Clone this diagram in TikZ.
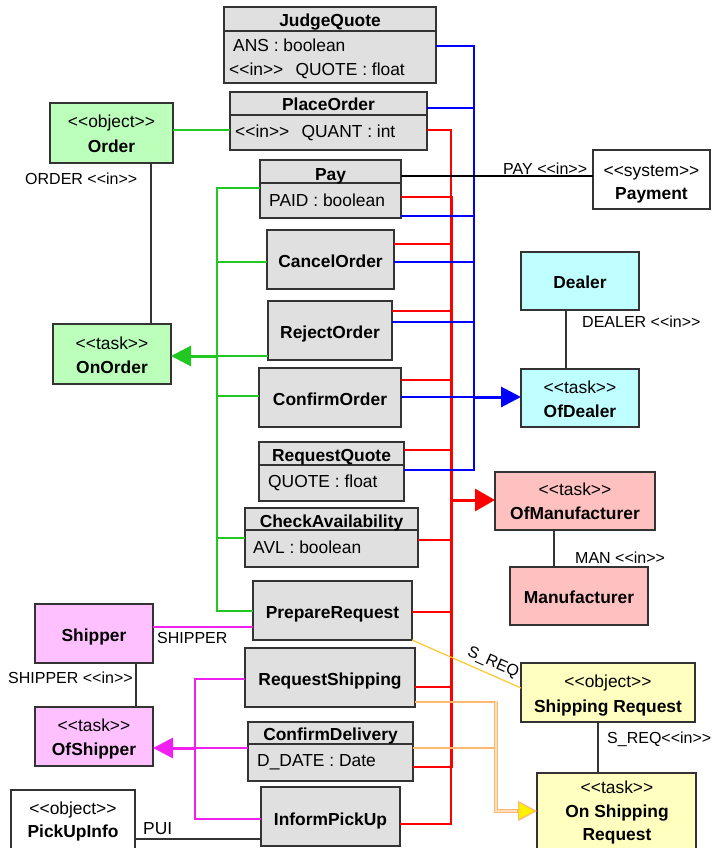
\documentclass[tikz,border=0pt]{standalone}
\usepackage{fontspec}
\newfontfamily\lsans{Liberation Sans}
\usetikzlibrary{arrows.meta}
\definecolor{edgec}{HTML}{333333}
\definecolor{boxg}{HTML}{E0E0E0}
\definecolor{grn}{HTML}{BBFFBB}
\definecolor{cyn}{HTML}{C0FFFF}
\definecolor{pnk}{HTML}{FFC0C0}
\definecolor{mag}{HTML}{FFC0FF}
\definecolor{ylw}{HTML}{FFFFC0}
\definecolor{gl}{HTML}{22C822}
\definecolor{bl}{HTML}{0000FF}
\definecolor{rl}{HTML}{FF0000}
\definecolor{ml}{HTML}{F020F0}
\definecolor{yl}{HTML}{FFC828}
\definecolor{ol}{HTML}{FFB870}
\tikzset{
  bx/.style={draw=edgec, line width=1.3pt, inner sep=0pt, outer sep=0pt, anchor=north west},
  tx/.style={font=\lsans\fontsize{17.4}{20}\selectfont, inner sep=0pt, anchor=base, text=black},
  tb/.style={font=\lsans\bfseries\fontsize{17.4}{20}\selectfont, inner sep=0pt, anchor=base, text=black},
  ta/.style={font=\lsans\fontsize{17.4}{20}\selectfont, inner sep=0pt, anchor=base west, text=black},
  lb/.style={font=\lsans\fontsize{16}{19}\selectfont, inner sep=0pt, anchor=base west, text=black},
  conn/.style={line width=1.2pt},
  thick3/.style={line width=3pt},
  bigtip/.style={-{Triangle[length=20pt,width=20pt]}},
  divl/.style={draw=edgec, line width=1.3pt},
}
\begin{document}
\begin{tikzpicture}[x=1pt,y=-1pt]
\useasboundingbox (0,0) rectangle (712,848);

% ---------- boxes ----------
\node[bx, fill=boxg, minimum width=212pt, minimum height=76pt] (judge) at (224,7) {};
\node[bx, fill=boxg, minimum width=197pt, minimum height=58pt] (place) at (230,92) {};
\node[bx, fill=grn, minimum width=123pt, minimum height=60pt] (order) at (50,103) {};
\node[bx, fill=boxg, minimum width=141pt, minimum height=58pt] (pay) at (260,160) {};
\node[bx, fill=white, minimum width=117pt, minimum height=59pt] (payment) at (593,150) {};
\node[bx, fill=boxg, minimum width=127pt, minimum height=59pt] (cancel) at (267,230) {};
\node[bx, fill=boxg, minimum width=124pt, minimum height=59pt] (reject) at (268,301) {};
\node[bx, fill=boxg, minimum width=142pt, minimum height=59pt] (confirm) at (259,368) {};
\node[bx, fill=boxg, minimum width=145pt, minimum height=59pt] (rquote) at (259,442) {};
\node[bx, fill=boxg, minimum width=173pt, minimum height=59pt] (check) at (245,508) {};
\node[bx, fill=boxg, minimum width=159pt, minimum height=59pt] (prepare) at (253,581) {};
\node[bx, fill=boxg, minimum width=170pt, minimum height=59pt] (reqship) at (245,648) {};
\node[bx, fill=boxg, minimum width=165pt, minimum height=59pt] (confdel) at (248,722) {};
\node[bx, fill=boxg, minimum width=139pt, minimum height=59pt] (inform) at (261,787) {};
\node[bx, fill=grn, minimum width=118pt, minimum height=60pt] (onorder) at (53,324) {};
\node[bx, fill=cyn, minimum width=118pt, minimum height=58pt] (dealer) at (521,252) {};
\node[bx, fill=cyn, minimum width=118pt, minimum height=58pt] (ofdealer) at (521,369) {};
\node[bx, fill=pnk, minimum width=160pt, minimum height=58pt] (ofman) at (495,472) {};
\node[bx, fill=pnk, minimum width=138pt, minimum height=58pt] (man) at (510,567) {};
\node[bx, fill=ylw, minimum width=174pt, minimum height=59pt] (shipreq) at (521,663) {};
\node[bx, fill=ylw, minimum width=159pt, minimum height=85pt] (onship) at (537,773) {};
\node[bx, fill=mag, minimum width=118pt, minimum height=59pt] (shipper) at (35,604) {};
\node[bx, fill=mag, minimum width=118pt, minimum height=59pt] (ofshipper) at (35,707) {};
\node[bx, fill=white, minimum width=124pt, minimum height=70pt] (pickup) at (11,790) {};

% compartment dividers
\draw[divl] (judge.west |- 0,31) -- (judge.east |- 0,31);
\draw[divl] (place.west |- 0,115) -- (place.east |- 0,115);
\draw[divl] (pay.west |- 0,183) -- (pay.east |- 0,183);
\draw[divl] (rquote.west |- 0,465) -- (rquote.east |- 0,465);
\draw[divl] (check.west |- 0,530) -- (check.east |- 0,530);
\draw[divl] (confdel.west |- 0,744) -- (confdel.east |- 0,744);

% ---------- texts ----------
\node[tb] (t-judge) at (330,27) {JudgeQuote};
\node[ta] (a-judge1) at (233,52) {ANS : boolean};
\node[ta] (a-judge2) at (229,76) {<<in>>\hspace{0.7em}QUOTE : float};
\node[tb] (t-place) at (328.5,111) {PlaceOrder};
\node[ta] (a-place) at (235,137) {<<in>>\hspace{0.7em}QUANT : int};
\node[tx] (s-order) at (111.5,128) {<<object>>};
\node[tb] (t-order) at (111.5,152) {Order};
\node[tb] (t-pay) at (330.5,180) {Pay};
\node[ta] (a-pay) at (269,206) {PAID : boolean};
\node[tx] (s-payment) at (651.5,176) {<<system>>};
\node[tb] (t-payment) at (651.5,199) {Payment};
\node[tb] (t-cancel) at (330.5,267) {CancelOrder};
\node[tb] (t-reject) at (330,338) {RejectOrder};
\node[tb] (t-confirm) at (330,405) {ConfirmOrder};
\node[tb] (t-rquote) at (331.5,461) {RequestQuote};
\node[ta] (a-rquote) at (268,487) {QUOTE : float};
\node[tb] (t-check) at (331.5,527) {CheckAvailability};
\node[ta] (a-check) at (253,553) {AVL : boolean};
\node[tb] (t-prepare) at (332.5,618) {PrepareRequest};
\node[tb] (t-reqship) at (330,685) {RequestShipping};
\node[tb] (t-confdel) at (330.5,740) {ConfirmDelivery};
\node[ta] (a-confdel) at (257,766) {D\_DATE : Date};
\node[tb] (t-inform) at (330.5,825) {InformPickUp};
\node[tx] (s-onorder) at (112,349) {<<task>>};
\node[tb] (t-onorder) at (112,373) {OnOrder};
\node[tb] (t-dealer) at (580,288) {Dealer};
\node[tx] (s-ofdealer) at (580,393) {<<task>>};
\node[tb] (t-ofdealer) at (580,417) {OfDealer};
\node[tx] (s-ofman) at (575,495) {<<task>>};
\node[tb] (t-ofman) at (575,519) {OfManufacturer};
\node[tb] (t-man) at (579,603) {Manufacturer};
\node[tx] (s-shipreq) at (608,687) {<<object>>};
\node[tb] (t-shipreq) at (608,712) {Shipping Request};
\node[tx] (s-onship) at (617,793) {<<task>>};
\node[tb] (t-onship1) at (617,817) {On Shipping};
\node[tb] (t-onship2) at (617,840) {Request};
\node[tb] (t-shipper) at (94,641) {Shipper};
\node[tx] (s-ofshipper) at (94,731) {<<task>>};
\node[tb] (t-ofshipper) at (94,755) {OfShipper};
\node[tx] (s-pickup) at (73,814) {<<object>>};
\node[tb] (t-pickup) at (73,837) {PickUpInfo};

% ---------- black connectors ----------
\draw[conn, edgec] (order.south -| 151,0) -- (onorder.north -| 151,0);
\node[lb] (l-order) at (25,184) {ORDER <<in>>};
\draw[conn, edgec] (dealer.south -| 566,0) -- (ofdealer.north -| 566,0);
\node[lb] (l-dealer) at (582,327) {DEALER <<in>>};
\draw[conn, edgec] (ofman.south -| 554,0) -- (man.north -| 554,0);
\node[lb] (l-man) at (575,563) {MAN <<in>>};
\draw[conn, edgec] (shipreq.south -| 598,0) -- (onship.north -| 598,0);
\node[lb] (l-sreq) at (607,743) {S\_REQ<<in>>};
\draw[conn, edgec] (shipper.south -| 136,0) -- (ofshipper.north -| 136,0);
\node[lb] (l-shipper) at (8,683) {SHIPPER <<in>>};
\draw[conn, edgec] (pickup.east |- 0,839) -- (inform.west |- 0,839);
\node[ta] (l-pui) at (143,834) {PUI};

% ---------- green ----------
\coordinate (gtop) at (217,188);
\coordinate (gbot) at (217,611);
\draw[conn, gl] (order.east |- 0,130) -- (place.west |- 0,130);
\draw[conn, gl] (pay.west |- gtop) -- (gtop) -- (gbot) -- (prepare.west |- gbot);
\draw[conn, gl] (cancel.west |- 0,262) -- (gtop |- 0,262);
\draw[conn, gl] (confirm.west |- 0,396) -- (gtop |- 0,396);
\draw[conn, gl] (check.west |- 0,538) -- (gtop |- 0,538);
\draw[conn, gl] (reject.west |- 0,356) -- (gtop |- 0,356);
\draw[thick3, gl, bigtip] (gtop |- 0,356) -- (onorder.east |- 0,356);

% ---------- red ----------
\coordinate (rtop) at (451,130);
\coordinate (rbot) at (451,824);
\draw[conn, rl] (place.east |- rtop) -- (rtop) -- (451,199);
\draw[thick3, rl] (451,196) -- (451,768);
\draw[conn, rl] (451,766) -- (rbot) -- (inform.east |- rbot);
\draw[conn, rl] (pay.east |- 0,197) -- (rtop |- 0,197);
\draw[conn, rl] (cancel.east |- 0,244) -- (rtop |- 0,244);
\draw[conn, rl] (reject.east |- 0,311) -- (rtop |- 0,311);
\draw[conn, rl] (confirm.east |- 0,380) -- (rtop |- 0,380);
\draw[conn, rl] (rquote.east |- 0,450) -- (rtop |- 0,450);
\draw[conn, rl] (check.east |- 0,540) -- (rtop |- 0,540);
\draw[conn, rl] (prepare.east |- 0,612) -- (rtop |- 0,612);
\draw[conn, rl] (reqship.east |- 0,687) -- (rtop |- 0,687);
\draw[conn, rl] (confdel.east |- 0,767) -- (rtop |- 0,767);
\draw[thick3, rl, -{Triangle[length=20pt,width=22pt]}] (rtop |- 0,500) -- (ofman.west |- 0,500);

% ---------- blue ----------
\coordinate (btop) at (474,46);
\coordinate (bbot) at (474,470);
\draw[conn, bl] (judge.east |- btop) -- (btop) -- (bbot) -- (rquote.east |- bbot);
\draw[conn, bl] (place.east |- 0,108) -- (btop |- 0,108);
\draw[conn, bl] (pay.east |- 0,216) -- (btop |- 0,216);
\draw[conn, bl] (cancel.east |- 0,262) -- (btop |- 0,262);
\draw[conn, bl] (reject.east |- 0,322) -- (btop |- 0,322);
\draw[conn, bl] (confirm.east |- 0,397) -- (btop |- 0,397);
\draw[thick3, bl, bigtip] (btop |- 0,397) -- (ofdealer.west |- 0,397);

% black pay line on top of buses
\draw[conn, black] (pay.east |- 0,176) -- (payment.west |- 0,176);
\node[lb] (l-pay) at (503,174) {PAY <<in>>};

% ---------- magenta ----------
\coordinate (mtop) at (195,679);
\coordinate (mbot) at (195,819);
\draw[conn, ml] (shipper.east |- 0,627) -- (prepare.west |- 0,627);
\node[lb] (l-shipper2) at (157,643) {SHIPPER};
\draw[conn, ml] (reqship.west |- mtop) -- (mtop) -- (mbot) -- (inform.west |- mbot);
\draw[conn, ml] (confdel.west |- 0,748) -- (mtop |- 0,748);
\draw[thick3, ml, bigtip] (mtop |- 0,748) -- (ofshipper.east |- 0,748);

% ---------- yellow / orange ----------
\draw[conn, yl] (prepare.south east) -- node[pos=0.7, sloped, above, inner sep=4pt, font=\lsans\fontsize{16}{19}\selectfont, text=black] (l-sreqline) {S\_REQ} (shipreq.west |- 0,688);
\coordinate (ocol) at (496,702);
\draw[conn, ol] (reqship.east |- ocol) -- (ocol) -- (496,811);
\draw[conn, ol] (confdel.east |- 0,748) -- (ocol |- 0,748);
\draw[line width=1.2pt, ol, double=ol!45, double distance=1.2pt] (ocol) -- (496,811) -- (518,811);
\draw[line width=1.2pt, ol, -{Triangle[length=19pt,width=20pt,fill=yellow]}] (517,811) -- (onship.west |- 0,811);

\end{tikzpicture}
\end{document}
